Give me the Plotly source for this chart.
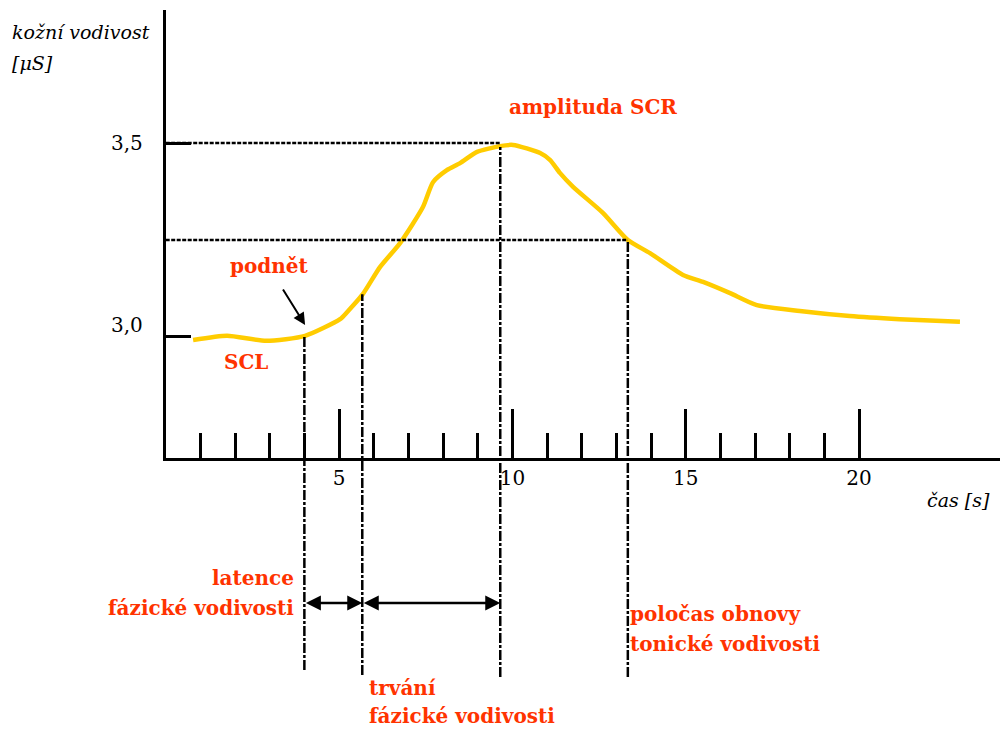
import plotly.graph_objects as go

# ---------------- data ----------------
time_s = [0.79, 1.77, 2.90, 4.02, 5.03, 5.23, 5.69, 6.18, 6.76, 7.42, 7.71,
          8.11, 8.49, 8.98, 9.64, 10.02, 10.80, 11.09, 11.37, 11.75, 12.61,
          13.33, 13.97, 14.92, 15.50, 16.28, 17.05, 18.29, 19.73, 21.17, 22.91]
conductance_uS = [2.992, 3.003, 2.990, 3.003, 3.046, 3.064, 3.111, 3.180, 3.242,
                  3.335, 3.399, 3.430, 3.448, 3.477, 3.492, 3.495, 3.474, 3.456,
                  3.423, 3.387, 3.320, 3.250, 3.216, 3.160, 3.142, 3.113, 3.082,
                  3.067, 3.054, 3.046, 3.039]

# event markers: stimulus, response onset, peak, half recovery
event_times = [4.0, 5.67, 9.65, 13.33]
event_levels = [3.0, 3.11, 3.49, 3.25]
peak_level = 3.5
half_level = 3.25

x_major_ticks = [5, 10, 15, 20]
x_major_labels = ["5", "10", "15", "20"]
x_minor_ticks = [1, 2, 3, 4, 6, 7, 8, 9, 11, 12, 13, 14, 16, 17, 18, 19]
y_ticks = [3.0, 3.5]
y_labels = ["3,0", "3,5"]

# ---------------- layout geometry ----------------
W, H = 1000, 729
X_RANGE = [0, 24.065]
Y_RANGE = [2.6881, 3.8428]
X_DOM = [0.1657, 1.0]
Y_DOM = [(729 - 458) / 729, (729 - 10) / 729]

RED = "#FF3300"
YELLOW = "#FFCC00"
SERIF = "DejaVu Serif"
TICKFONT = "DejaVu Serif"


def py(v):
    """data y -> paper y"""
    return Y_DOM[0] + (v - Y_RANGE[0]) / (Y_RANGE[1] - Y_RANGE[0]) * (Y_DOM[1] - Y_DOM[0])


def pp(x, y):
    """pixel -> paper"""
    return x / W, 1 - y / H


fig = go.Figure()
fig.add_trace(go.Scatter(
    x=time_s, y=conductance_uS, mode="lines",
    line=dict(color=YELLOW, width=4.5, shape="spline", smoothing=0.6),
    hoverinfo="skip", showlegend=False,
))

shapes = []
# horizontal dotted guides
for xe, lv in [(event_times[2], peak_level), (event_times[3], half_level)]:
    shapes.append(dict(type="line", xref="x", yref="y", x0=0, x1=xe,
                       y0=lv, y1=lv,
                       line=dict(color="black", width=2.5, dash="4px,1.5px")))
# vertical dash-dot guides extending below the axis
bottoms_px = [670, 675, 677, 677]
for t, lv, b in zip(event_times, event_levels, bottoms_px):
    shapes.append(dict(type="line", xref="x", yref="paper", x0=t, x1=t,
                       y0=1 - b / H, y1=py(lv),
                       line=dict(color="black", width=2.5, dash="10px,2px,3px,2px")))

annotations = []
# double-headed arrows for latency and duration
arrow_y = 1 - 603 / H
for a, b in [(event_times[0], event_times[1]), (event_times[1], event_times[2])]:
    annotations.append(dict(
        x=b, y=arrow_y, xref="x", yref="paper", ax=a, ay=0,
        axref="x", ayref="pixel", text="", showarrow=True,
        arrowhead=2, startarrowhead=2, arrowside="end+start",
        arrowsize=1.2, startarrowsize=1.2, arrowwidth=2.5, arrowcolor="black",
        standoff=0, startstandoff=0))
# stimulus arrow
annotations.append(dict(
    x=4.02, y=3.031, xref="x", yref="y", ax=-23, ay=-37, text="",
    showarrow=True, arrowhead=2, arrowsize=1.2, arrowwidth=2, arrowcolor="black",
    standoff=0))

# y tick labels
for v, lab, sh in zip(y_ticks, y_labels, [12, 0]):
    annotations.append(dict(x=145 / W, y=v, xref="paper", yref="y", text=lab,
                            showarrow=False, xanchor="right", yanchor="middle",
                            yshift=sh,
                            font=dict(family=TICKFONT, size=20, color="black")))


def txt(s, x, y, anchor="left", color=RED, bold=True, italic=False, size=20):
    xp, yp = pp(x, y)
    t = s
    if bold:
        t = "<b>" + t + "</b>"
    if italic:
        t = "<i>" + t + "</i>"
    annotations.append(dict(x=xp, y=yp, xref="paper", yref="paper", text=t,
                            showarrow=False, xanchor=anchor, yanchor="middle",
                            font=dict(family=SERIF, size=size, color=color)))


txt("kožní vodivost", 10, 32, color="black", bold=False, italic=True, size=19)
txt("[μS]", 10, 63, color="black", bold=False, italic=True, size=19)
txt("čas [s]", 925, 500, color="black", bold=False, italic=True, size=19)
txt("amplituda SCR", 507, 107)
txt("podnět", 228, 266)
txt("SCL", 222, 362)
txt("latence", 296, 578, anchor="right")
txt("fázické vodivosti", 296, 608, anchor="right")
txt("trvání", 367, 688)
txt("fázické vodivosti", 367, 716)
txt("poločas obnovy", 628, 614)
txt("tonické vodivosti", 628, 644)

fig.update_layout(
    width=W, height=H, autosize=False,
    margin=dict(l=0, r=0, t=0, b=0),
    paper_bgcolor="white", plot_bgcolor="white",
    showlegend=False,
    shapes=shapes, annotations=annotations,
    xaxis=dict(
        domain=X_DOM, range=X_RANGE, showgrid=False, zeroline=False,
        showline=True, linecolor="black", linewidth=3,
        tickmode="array", tickvals=x_major_ticks, ticktext=x_major_labels,
        ticks="inside", ticklen=49, tickwidth=2.5, tickcolor="black",
        tickfont=dict(family=TICKFONT, size=20, color="black"),
        minor=dict(tickmode="array", tickvals=x_minor_ticks, ticks="inside",
                   ticklen=25, tickwidth=3, tickcolor="black", showgrid=False),
        fixedrange=True,
    ),
    yaxis=dict(
        domain=Y_DOM, range=Y_RANGE, showgrid=False, zeroline=False,
        showline=True, linecolor="black", linewidth=3,
        tickmode="array", tickvals=y_ticks, ticktext=y_labels,
        ticks="inside", ticklen=25, tickwidth=3, tickcolor="black",
        showticklabels=False, fixedrange=True,
    ),
)

fig.write_html("out.html")
